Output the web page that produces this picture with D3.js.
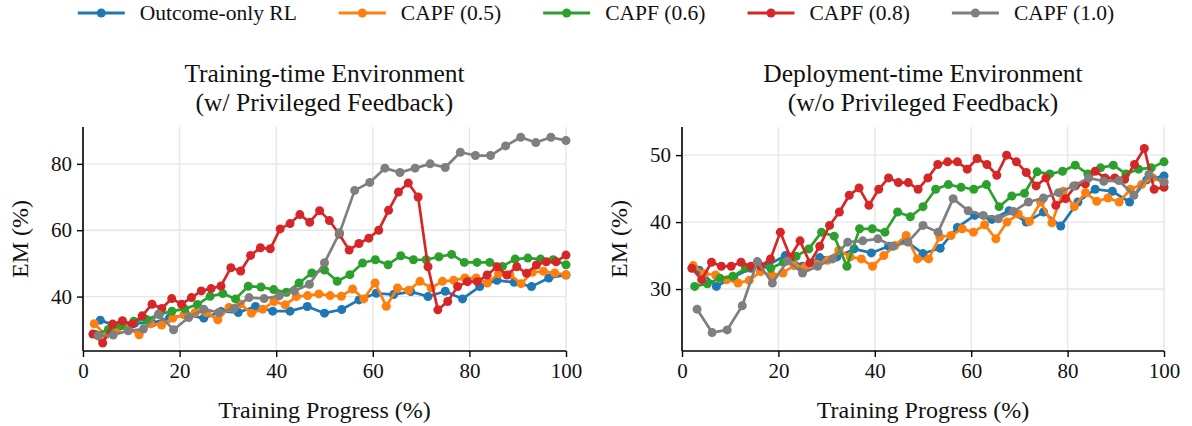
<!DOCTYPE html>
<html>
<head>
<meta charset="utf-8">
<script src="https://cdn.jsdelivr.net/npm/d3@7"></script>
<style>
  body { margin: 0; background: #ffffff; }
  svg { display: block; font-family: "Liberation Serif", "Times New Roman", serif; }
</style>
</head>
<body>
<svg id="chart" width="1192" height="426"></svg>
<script>
// series order = draw order (gray ends on top)
const seriesNames = ['Outcome-only RL', 'CAPF (0.5)', 'CAPF (0.6)', 'CAPF (0.8)', 'CAPF (1.0)'];
const seriesColors = ['#1f77b4', '#ff7f0e', '#2ca02c', '#d62728', '#7f7f7f'];

// EM (%) in the training-time environment (w/ privileged feedback)
const trainOutcome = [32.9, 31, 32, 32, 33.5, 34.5, 33.5, 35.5, 35.2, 37, 35.6, 35.6, 37, 35, 36.1, 39, 41, 40.6, 41.5, 40, 41.6, 39.3, 43, 44.9, 44.3, 43, 45.6, 46.5];
const trainCapf05 = [31.8, 28.5, 30, 30.5, 28.5, 31.8, 31.4, 33.5, 34.5, 35.2, 35.2, 33, 36.7, 37.8, 35, 36.2, 38.5, 37.5, 40, 40.3, 40.8, 40.3, 40.1, 42.3, 39.3, 44.1, 37.1, 42.6, 41.9, 44.6, 42.6, 44.6, 44.9, 45.6, 45.6, 44.1, 46.9, 46.6, 43.9, 47.3, 47.6, 47.1, 46.6];
const trainCapf06 = [28.6, 30.1, 31.3, 32.6, 33.1, 34.6, 35.6, 36.3, 37.6, 40.1, 40.9, 39.3, 43.1, 42.9, 42.1, 41.3, 44.1, 47.1, 48, 44.6, 46.6, 50.1, 51.1, 49.6, 52.3, 51.1, 51.1, 52, 52.7, 50.3, 50.3, 50.3, 49.1, 51.3, 51.6, 51.3, 51.1, 49.6];
const trainCapf08 = [28.7, 26, 31.7, 32.7, 31.7, 34.2, 37.7, 36.4, 39.4, 37.7, 39.7, 41.7, 42.4, 43.2, 48.7, 47.7, 52.4, 54.7, 54.4, 60.4, 62, 64.7, 62.4, 65.9, 62.9, 58.8, 54, 56, 57.6, 60, 66, 71.5, 74.2, 70, 49, 36, 38.5, 43, 44.5, 44.5, 46.5, 49, 46.5, 49, 47, 49.5, 50.5, 50.5, 52.5];
const trainCapf10 = [28.2, 28.4, 29.7, 30.2, 34.7, 30, 33.7, 36.2, 35.2, 36.4, 39.7, 39.4, 40.2, 41.7, 43.7, 50.2, 59.2, 72, 74.4, 78.7, 77.4, 78.7, 80, 78.9, 83.5, 82.5, 82.5, 85.4, 88, 86.4, 88, 87];

// EM (%) in the deployment-time environment (w/o privileged feedback)
const deployOutcome = [32.8, 30.4, 31.8, 33.1, 33.6, 35, 33.4, 34.7, 34.8, 36, 35.4, 36.4, 37.2, 35.3, 36.1, 39.2, 41, 40.4, 41.7, 40, 41.5, 39.4, 43, 44.9, 44.6, 43, 46.3, 46.9];
const deployCapf05 = [33.5, 32.3, 32.1, 31.4, 30.9, 31.3, 32.6, 32.1, 32.4, 33.5, 33.3, 33.7, 34.3, 35.8, 34.8, 34.5, 33.4, 35, 36.5, 38, 34.5, 34.5, 37.8, 38, 39, 38.5, 39.6, 37.5, 40, 41.2, 40.1, 43, 39.9, 44.6, 42.3, 44.4, 43.1, 43.6, 43, 44.9, 45.6, 46.6, 45.9];
const deployCapf06 = [30.4, 30.8, 31.6, 31.9, 33.1, 33.8, 33.1, 34, 34.9, 36, 38.5, 37.9, 33.4, 39, 39, 38.5, 41.5, 40.8, 42.3, 44.9, 45.6, 45.2, 44.9, 45.6, 42.3, 43.9, 44.3, 47.5, 47.2, 47.6, 48.5, 47.2, 48.1, 48.5, 47.2, 47.9, 48.1, 49];
const deployCapf08 = [33.1, 31.4, 34, 33.4, 33.4, 34, 33.4, 33.4, 34.5, 38.5, 34.8, 37.2, 33.9, 36.4, 39.5, 41.5, 44, 45.1, 42.5, 44.9, 46.6, 45.9, 45.9, 44.9, 46.6, 48.6, 49, 49, 47.9, 49.5, 48.6, 47, 50, 49, 47.4, 45.4, 46.6, 42.5, 43.5, 45.4, 45.7, 47.6, 46.6, 46.6, 46.4, 48.6, 51, 44.9, 45.2];
const deployCapf10 = [27, 23.5, 23.9, 27.5, 34.1, 30.9, 34.2, 32.4, 33.4, 34.5, 37, 37.2, 37.5, 36.4, 37, 39.5, 38.5, 43.5, 41.7, 41, 40.5, 41.6, 43, 43.6, 44.4, 45.4, 46.6, 46.1, 46.2, 44, 47.1, 46];

const xTicks = [0, 20, 40, 60, 80, 100];
const trainYTicks = [40, 60, 80];
const deployYTicks = [30, 40, 50];

const svg = d3.select('#chart');

const fontTitle = 25.5;
const fontLabel = 24;
const fontTick = 21;
const fontLegend = 21.5;

// each run logs its own number of evals, spread evenly up to 100 %
const toPoints = (vals) => vals.map((v, i) => ({ x: (i + 1) / vals.length * 100, y: v }));

const panels = [
  {
    left: 83, right: 566, top: 127, bottom: 351,
    yDomain: [23.6, 91.1], yTicks: trainYTicks,
    title: ['Training-time Environment', '(w/ Privileged Feedback)'],
    series: [trainOutcome, trainCapf05, trainCapf06, trainCapf08, trainCapf10],
  },
  {
    left: 682, right: 1164, top: 127, bottom: 351,
    yDomain: [20.75, 54.2], yTicks: deployYTicks,
    title: ['Deployment-time Environment', '(w/o Privileged Feedback)'],
    series: [deployOutcome, deployCapf05, deployCapf06, deployCapf08, deployCapf10],
  },
];

panels.forEach((p) => {
  const x = d3.scaleLinear().domain([0, 100]).range([p.left, p.right]);
  const y = d3.scaleLinear().domain(p.yDomain).range([p.bottom, p.top]);
  const g = svg.append('g');

  //grid
  g.append('g')
    .selectAll('line')
    .data(xTicks)
    .join('line')
    .attr('x1', (d) => x(d)).attr('x2', (d) => x(d))
    .attr('y1', p.top).attr('y2', p.bottom)
    .attr('stroke', '#e6e6e6')
    .attr('stroke-width', 1.4);
  g.append('g')
    .selectAll('line')
    .data(p.yTicks)
    .join('line')
    .attr('x1', p.left).attr('x2', p.right)
    .attr('y1', (d) => y(d)).attr('y2', (d) => y(d))
    .attr('stroke', '#e6e6e6')
    .attr('stroke-width', 1.4);

  //lines + markers
  const line = d3.line().x((d) => x(d.x)).y((d) => y(d.y));
  p.series.forEach((vals, si) => {
    const pts = toPoints(vals);
    const sg = g.append('g');
    sg.append('path')
      .datum(pts)
      .attr('d', line)
      .attr('fill', 'none')
      .attr('stroke', seriesColors[si])
      .attr('stroke-width', 2.7)
      .attr('stroke-linejoin', 'round');
    sg.selectAll('circle')
      .data(pts)
      .join('circle')
      .attr('cx', (d) => x(d.x))
      .attr('cy', (d) => y(d.y))
      .attr('r', 4.5)
      .attr('fill', seriesColors[si]);
  });

  //axes
  const xAxis = g.append('g')
    .attr('transform', `translate(0,${p.bottom})`)
    .call(d3.axisBottom(x).tickValues(xTicks).tickSize(6).tickPadding(6).tickFormat(d3.format('d')));
  const yAxis = g.append('g')
    .attr('transform', `translate(${p.left},0)`)
    .call(d3.axisLeft(y).tickValues(p.yTicks).tickSize(6).tickPadding(5).tickFormat(d3.format('d')));
  [xAxis, yAxis].forEach((ax) => {
    ax.selectAll('.tick line').attr('stroke', '#000').attr('stroke-width', 1.4);
    ax.selectAll('.tick text')
      .attr('fill', '#111')
      .style('font-family', '"Liberation Serif", serif')
      .style('font-size', fontTick + 'px');
  });
  // plain spines without the end caps d3 adds
  xAxis.select('.domain').attr('stroke', '#000').attr('stroke-width', 1.6).attr('d', `M${p.left},0H${p.right}`);
  yAxis.select('.domain').attr('stroke', '#000').attr('stroke-width', 1.6).attr('d', `M0,${p.bottom}V${p.top}`);

  //titles
  const cx = (p.left + p.right) / 2;
  g.append('text')
    .attr('x', cx).attr('y', 81.5)
    .attr('text-anchor', 'middle')
    .style('font-size', fontTitle + 'px')
    .attr('fill', '#111')
    .text(p.title[0]);
  g.append('text')
    .attr('x', cx).attr('y', 111)
    .attr('text-anchor', 'middle')
    .style('font-size', fontTitle + 'px')
    .attr('fill', '#111')
    .text(p.title[1]);

  g.append('text')
    .attr('x', cx).attr('y', 418)
    .attr('text-anchor', 'middle')
    .style('font-size', fontLabel + 'px')
    .attr('fill', '#111')
    .text('Training Progress (%)');
  g.append('text')
    .attr('transform', `translate(${p.left - 55},${(p.top + p.bottom) / 2}) rotate(-90)`)
    .attr('text-anchor', 'middle')
    .style('font-size', fontLabel + 'px')
    .attr('fill', '#111')
    .text('EM (%)');
});

//legend across the top
const legend = svg.append('g');
let lx = 0;
seriesNames.forEach((name, i) => {
  const it = legend.append('g');
  it.append('line')
    .attr('x1', 0).attr('x2', 47)
    .attr('y1', 0).attr('y2', 0)
    .attr('stroke', seriesColors[i])
    .attr('stroke-width', 2.8);
  it.append('circle')
    .attr('cx', 23.5).attr('cy', 0).attr('r', 4.5)
    .attr('fill', seriesColors[i]);
  const t = it.append('text')
    .attr('x', 62).attr('y', 0)
    .attr('dy', '0.33em')
    .style('font-size', fontLegend + 'px')
    .attr('fill', '#111')
    .text(name);
  const w = 62 + t.node().getComputedTextLength();
  it.attr('transform', `translate(${lx},13)`);
  lx += w + 42;
});
const legendWidth = lx - 42;
legend.attr('transform', `translate(${596 - legendWidth / 2},0)`);
</script>
</body>
</html>
